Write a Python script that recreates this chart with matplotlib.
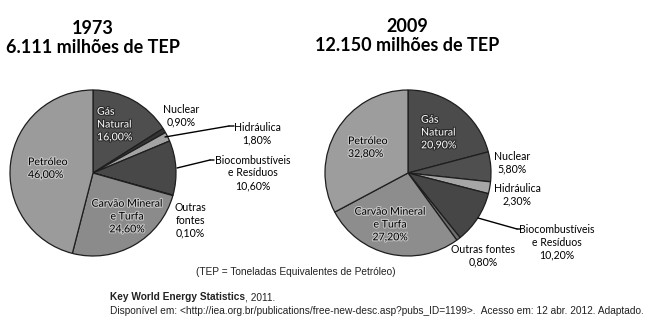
import matplotlib
matplotlib.use('Agg')
from matplotlib import pyplot as plt
import matplotlib.patheffects as pe

# data
sources = ['Gás Natural', 'Nuclear', 'Hidráulica', 'Biocombustíveis e Resíduos',
           'Outras fontes', 'Carvão Mineral e Turfa', 'Petróleo']
share_1973 = [16.0, 0.9, 1.8, 10.6, 0.1, 24.6, 46.0]
share_2009 = [20.9, 5.8, 2.3, 10.2, 0.8, 27.2, 32.8]
colors_1973 = ['#4e4e4e', '#333333', '#a3a3a3', '#484848', '#6a6a6a', '#8b8b8b', '#9b9b9b']
colors_2009 = ['#4b4b4b', '#4f4f4f', '#a6a6a6', '#464646', '#6e6e6e', '#8d8d8d', '#9d9d9d']
titles = ['1973\n6.111 milhões de TEP', '2009\n12.150 milhões de TEP']

W, H = 661, 323
fig = plt.figure(figsize=(W / 100, H / 100), dpi=100)
ax = fig.add_axes([0, 0, 1, 1])
ax.set_xlim(0, W)
ax.set_ylim(0, H)
ax.set_aspect('equal')
ax.axis('off')

FONT = 'Lato'


def Y(y):
    # pixel row from top -> data y
    return H - y


def pct(v):
    return ('%.2f%%' % v).replace('.', ',')


def txt(x, y, s, ha='center', color='black', size=7.6, glow=None, weight='normal'):
    t = ax.text(x, Y(y), s, ha=ha, va='center', color=color, fontsize=size,
                family=FONT, linespacing=1.2, weight=weight)
    if glow:
        t.set_path_effects([pe.withStroke(linewidth=1.6, foreground=glow)])
    return t


def leader(x0, y0, x1, y1):
    ax.annotate('', xy=(x0, Y(y0)), xytext=(x1, Y(y1)),
                arrowprops=dict(arrowstyle='-', color='black', lw=1.0,
                                shrinkA=0, shrinkB=0))


for shares, cols, cx in [(share_1973, colors_1973, 93), (share_2009, colors_2009, 408)]:
    ax.pie(shares, colors=cols, startangle=90, counterclock=False,
           center=(cx, Y(173)), radius=83, frame=True,
           wedgeprops=dict(edgecolor='#1e1e1e', linewidth=0.9))

ax.set_xlim(0, W)
ax.set_ylim(0, H)
ax.axis('off')

# titles
txt(93, 38, titles[0], size=13, weight='bold')
txt(407, 36, titles[1], size=13, weight='bold')

# 1973 labels
txt(97, 124, 'Gás\nNatural\n' + pct(share_1973[0]), ha='left', color='white',
    glow='#2a2a2a')
txt(181, 116, 'Nuclear\n' + pct(share_1973[1]))
txt(257, 134, 'Hidráulica\n' + pct(share_1973[2]))
txt(253, 173, 'Biocombustíveis\ne Resíduos\n' + pct(share_1973[3]))
txt(190, 220, 'Outras\nfontes\n' + pct(share_1973[4]))
txt(127, 216, 'Carvão Mineral\ne Turfa\n' + pct(share_1973[5]), glow='#c4c4c4')
txt(28, 168, 'Petróleo\n' + pct(share_1973[6]), ha='left', glow='#c4c4c4')
leader(165, 137, 229, 126)
leader(229, 126, 234, 126)
leader(177, 168, 210, 160)
leader(210, 160, 214, 160)

# 2009 labels
txt(421, 132, 'Gás\nNatural\n' + pct(share_2009[0]), ha='left', color='white',
    glow='#2a2a2a')
txt(512, 163, 'Nuclear\n' + pct(share_2009[1]))
txt(517, 195, 'Hidráulica\n' + pct(share_2009[2]))
txt(557, 242, 'Biocombustíveis\ne Resíduos\n' + pct(share_2009[3]))
txt(483, 256, 'Outras fontes\n' + pct(share_2009[4]))
txt(390, 224, 'Carvão Mineral\ne Turfa\n' + pct(share_2009[5]), glow='#c4c4c4')
txt(348, 147, 'Petróleo\n' + pct(share_2009[6]), ha='left', glow='#c4c4c4')
leader(478, 218, 517, 229)
leader(517, 229, 521, 229)

# footer
SANS = 'Liberation Sans'
ax.text(296, Y(272), '(TEP = Toneladas Equivalentes de Petróleo)', ha='center',
        va='center', fontsize=7.3, family=SANS, color='#222222')
key = ax.text(110, Y(297), 'Key World Energy Statistics', ha='left', va='center',
              fontsize=7.3, family=SANS, weight='bold', color='#222222')
ax.annotate(', 2011.', xy=(1, 0), xycoords=key, ha='left', va='bottom',
            fontsize=7.3, family=SANS, color='#222222')
ax.text(110, Y(311), 'Disponível em: <http://iea.org.br/publications/free-new-desc.asp?pubs_ID=1199>.  '
        'Acesso em: 12 abr. 2012. Adaptado.', ha='left', va='center',
        fontsize=7.3, family=SANS, color='#222222')

fig.savefig('out.png', dpi=100, facecolor='white')
